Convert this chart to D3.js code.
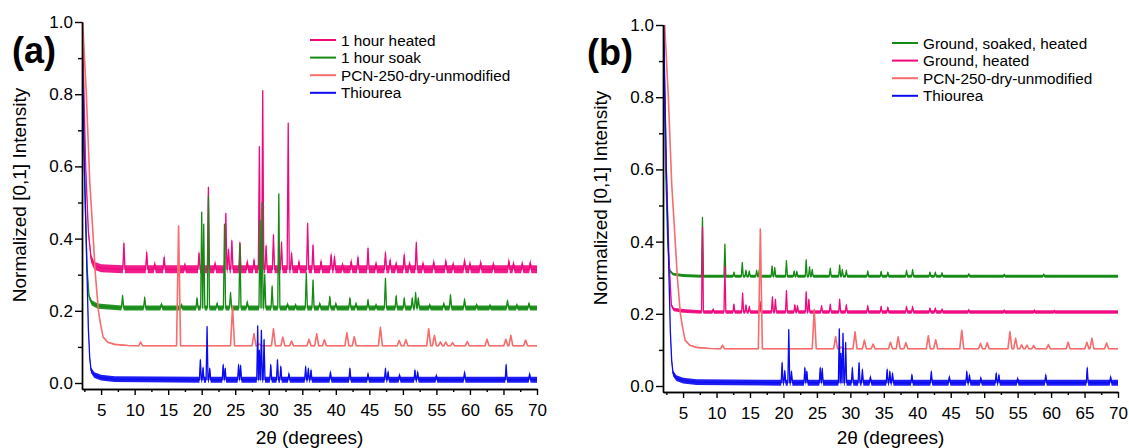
<!DOCTYPE html>
<html>
<head>
<meta charset="utf-8">
<script src="https://cdn.jsdelivr.net/npm/d3@7"></script>
<style>
  body { margin: 0; background: #fff; }
  svg { display: block; font-family: "Liberation Sans", Arial, sans-serif; }
</style>
</head>
<body>
<svg id="chart" width="1129" height="448"></svg>
<script>
// ---------------------------------------------------------------------------
// Axis ticks and labels

const xMajorTicks = [5, 10, 15, 20, 25, 30, 35, 40, 45, 50, 55, 60, 65, 70];
const xMinorTicks = [2.5, 7.5, 12.5, 17.5, 22.5, 27.5, 32.5, 37.5, 42.5, 47.5, 52.5, 57.5, 62.5, 67.5];
const yMajorTicks = [0.0, 0.2, 0.4, 0.6, 0.8, 1.0];
const yMinorTicks = [0.1, 0.3, 0.5, 0.7, 0.9];

const xTitle = '2θ (degrees)';
const yTitle = 'Normalized [0,1] Intensity';

const legendA = ['1 hour heated', '1 hour soak', 'PCN-250-dry-unmodified', 'Thiourea'];
const legendB = ['Ground, soaked, heated', 'Ground, heated', 'PCN-250-dry-unmodified', 'Thiourea'];

// ---------------------------------------------------------------------------
// Patterns: low-angle fall-off, flat baseline, peaks as [2θ, intensity]

// (a) 1 hour heated
const heatedLead = [[2.2, 1.0], [2.7, 0.6], [3.1, 0.42], [3.5, 0.345], [4.0, 0.325], [5.0, 0.318]];
const heatedBase = 0.315;
const heatedNoise = 0.011;
const heatedPeaks = [[8.4, 0.387], [11.8, 0.362], [13.0, 0.328], [14.4, 0.348], [17.5, 0.325],
  [19.6, 0.36], [20.2, 0.34], [21.0, 0.542], [22.0, 0.33], [23.6, 0.47], [24.0, 0.37],
  [24.5, 0.394], [25.7, 0.389], [26.8, 0.335], [27.8, 0.34], [28.6, 0.655], [29.1, 0.81],
  [29.6, 0.38], [30.7, 0.41], [31.9, 0.39], [32.9, 0.72], [33.4, 0.36], [34.5, 0.335],
  [35.8, 0.442], [36.6, 0.382], [37.8, 0.336], [39.3, 0.355], [39.8, 0.35], [41.0, 0.325],
  [42.3, 0.336], [43.3, 0.348], [44.8, 0.373], [46.0, 0.33], [47.4, 0.361], [48.1, 0.34],
  [49.0, 0.33], [50.2, 0.355], [51.0, 0.33], [52.0, 0.389], [53.0, 0.33], [54.6, 0.335],
  [56.4, 0.338], [57.5, 0.328], [59.2, 0.34], [60.0, 0.33], [61.6, 0.333], [63.5, 0.328],
  [65.8, 0.338], [66.5, 0.33], [67.8, 0.33], [69.0, 0.333]];

// (a) 1 hour soak
const soakLead = [[2.1, 1.0], [2.5, 0.6], [2.9, 0.32], [3.2, 0.24], [3.6, 0.222], [4.5, 0.213]];
const soakBase = 0.208;
const soakNoise = 0.007;
const soakPeaks = [[8.2, 0.242], [11.5, 0.237], [14.0, 0.218], [17.0, 0.215], [19.3, 0.235],
  [20.0, 0.473], [20.3, 0.44], [21.0, 0.518], [22.3, 0.22], [23.4, 0.44], [24.3, 0.25],
  [25.7, 0.385], [26.8, 0.225], [28.7, 0.45], [29.0, 0.5], [29.4, 0.3], [30.5, 0.268],
  [31.5, 0.524], [32.8, 0.218], [34.0, 0.215], [35.6, 0.304], [36.6, 0.285], [37.6, 0.22],
  [39.1, 0.239], [40.0, 0.22], [42.1, 0.235], [43.0, 0.22], [44.8, 0.23], [46.0, 0.215],
  [47.4, 0.29], [49.0, 0.241], [50.2, 0.235], [51.4, 0.235], [51.9, 0.25], [52.3, 0.235],
  [54.0, 0.215], [56.1, 0.22], [57.1, 0.244], [59.2, 0.232], [61.0, 0.215], [63.0, 0.213],
  [65.6, 0.228], [67.0, 0.215], [68.8, 0.22]];

// PCN-250-dry-unmodified (both panels)
const pcnLead = [[2.25, 1.0], [2.8, 0.8], [3.3, 0.56], [3.7, 0.44], [4.15, 0.3], [4.6, 0.2],
  [4.9, 0.165], [5.3, 0.127], [6.0, 0.113], [7.0, 0.107], [9.0, 0.104]];
const pcnBase = 0.103;
const pcnNoise = 0.0015;
const pcnPeaks = [[10.9, 0.113], [16.55, 0.435], [24.6, 0.212], [27.8, 0.137], [28.6, 0.108],
  [30.7, 0.15], [32.1, 0.127], [33.4, 0.116], [36.0, 0.121], [37.15, 0.136], [38.3, 0.12],
  [41.65, 0.139], [42.75, 0.128], [46.65, 0.154], [49.45, 0.118], [50.45, 0.12], [53.85, 0.15],
  [54.7, 0.132], [55.6, 0.114], [56.4, 0.113], [57.4, 0.112], [59.6, 0.115], [62.55, 0.121],
  [65.35, 0.121], [66.1, 0.132], [68.3, 0.119]];

// Thiourea (both panels)
const thioLead = [[2.1, 1.0], [2.5, 0.6], [2.9, 0.3], [3.1, 0.15], [3.3, 0.07], [3.5, 0.035],
  [4.0, 0.022], [5.0, 0.015], [7.0, 0.011]];
const thioBase = 0.009;
const thioNoise = 0.008;
const thioPeaks = [[19.8, 0.064], [20.2, 0.042], [20.8, 0.156], [21.2, 0.04], [23.2, 0.05],
  [23.5, 0.04], [25.5, 0.05], [25.8, 0.048], [28.35, 0.158], [28.6, 0.09], [28.9, 0.146],
  [29.3, 0.12], [30.3, 0.05], [31.3, 0.064], [31.8, 0.045], [33.0, 0.025], [35.5, 0.045],
  [35.9, 0.04], [36.3, 0.035], [39.2, 0.03], [42.1, 0.04], [44.8, 0.025], [47.4, 0.04],
  [47.8, 0.03], [49.5, 0.022], [51.8, 0.035], [52.2, 0.03], [55.0, 0.02], [59.2, 0.03],
  [65.4, 0.05], [68.9, 0.025]];

// (b) Ground, soaked, heated
const gshLead = [[2.05, 1.0], [2.4, 0.6], [2.7, 0.4], [3.0, 0.32], [3.5, 0.31], [5.0, 0.306]];
const gshBase = 0.304;
const gshNoise = 0.004;
const gshPeaks = [[7.9, 0.467], [11.25, 0.393], [12.6, 0.315], [13.85, 0.342], [14.4, 0.32],
  [14.9, 0.318], [16.0, 0.32], [16.4, 0.322], [18.3, 0.332], [18.7, 0.328], [20.45, 0.347],
  [21.6, 0.318], [22.0, 0.317], [23.4, 0.349], [23.9, 0.33], [24.3, 0.322], [27.0, 0.326],
  [28.4, 0.335], [28.8, 0.322], [29.4, 0.32], [32.6, 0.318], [34.6, 0.317], [35.6, 0.315],
  [38.4, 0.32], [39.3, 0.322], [41.9, 0.315], [42.7, 0.315], [43.7, 0.313], [47.7, 0.31],
  [53.0, 0.308], [58.9, 0.309]];

// (b) Ground, heated
const ghLead = [[2.05, 1.0], [2.5, 0.6], [2.9, 0.35], [3.25, 0.224], [3.6, 0.212], [5.0, 0.208]];
const ghBase = 0.205;
const ghNoise = 0.005;
const ghPeaks = [[7.9, 0.44], [9.5, 0.212], [11.25, 0.332], [12.6, 0.226], [13.9, 0.257],
  [14.4, 0.224], [14.9, 0.22], [16.5, 0.234], [18.35, 0.247], [18.8, 0.24], [20.45, 0.264],
  [21.7, 0.225], [22.1, 0.222], [23.4, 0.261], [23.8, 0.24], [25.7, 0.222], [27.0, 0.226],
  [28.4, 0.24], [29.4, 0.225], [32.6, 0.222], [34.6, 0.22], [35.6, 0.218], [38.4, 0.22],
  [39.3, 0.22], [41.9, 0.215], [42.7, 0.215], [43.7, 0.212], [47.7, 0.21], [53.0, 0.208],
  [57.5, 0.208], [60.5, 0.207]];

// ---------------------------------------------------------------------------
// Styling

const PINK = '#f0087f';
const GREEN = '#148a14';
const SALMON = '#f76c6c';
const BLUE = '#0b0bf2';

const seriesA = [
  { lead: heatedLead, base: heatedBase, peaks: heatedPeaks, noise: heatedNoise, color: PINK, hw: 0.16, lw: 1.3 },
  { lead: soakLead, base: soakBase, peaks: soakPeaks, noise: soakNoise, color: GREEN, hw: 0.16, lw: 1.3 },
  { lead: pcnLead, base: pcnBase, peaks: pcnPeaks, noise: pcnNoise, color: SALMON, hw: 0.3, lw: 1.6 },
  { lead: thioLead, base: thioBase, peaks: thioPeaks, noise: thioNoise, color: BLUE, hw: 0.14, lw: 1.3 }
];
const seriesB = [
  { lead: gshLead, base: gshBase, peaks: gshPeaks, noise: gshNoise, color: GREEN, hw: 0.14, lw: 1.3 },
  { lead: ghLead, base: ghBase, peaks: ghPeaks, noise: ghNoise, color: PINK, hw: 0.14, lw: 1.3 },
  { lead: pcnLead, base: pcnBase, peaks: pcnPeaks, noise: pcnNoise, color: SALMON, hw: 0.3, lw: 1.6 },
  { lead: thioLead, base: thioBase, peaks: thioPeaks, noise: thioNoise, color: BLUE, hw: 0.14, lw: 1.3 }
];

const panels = [
  { id: 'a', letter: '(a)', letterX: 12, letterY: 63, left: 82, right: 537, top: 22, bottom: 389,
    xMin: 2.15, series: seriesA, legend: legendA, legendX: 310, legendY: 40,
    yTitleX: 26, yTitleY: 195 },
  { id: 'b', letter: '(b)', letterX: 587, letterY: 65, left: 663, right: 1118, top: 25, bottom: 392,
    xMin: 2.0, series: seriesB, legend: legendB, legendX: 892, legendY: 43,
    yTitleX: 607, yTitleY: 198 }
];

const yMin = -0.0166;

// ---------------------------------------------------------------------------
// Helpers

function tracePoints(s) {
  const pts = s.lead.slice();
  s.peaks.forEach(([p, h]) => {
    pts.push([p - s.hw, s.base], [p, h], [p + s.hw, s.base]);
  });
  pts.push([70, s.base]);
  return pts.sort((a, b) => a[0] - b[0]);
}

const svg = d3.select('#chart');

panels.forEach(function(pn) {
  const x = d3.scaleLinear().domain([pn.xMin, 70]).range([pn.left, pn.right]);
  const y = d3.scaleLinear().domain([yMin, 1.0]).range([pn.bottom, pn.top]);

  const g = svg.append('g').attr('class', 'panel-' + pn.id);

  svg.append('clipPath').attr('id', 'clip-' + pn.id)
    .append('rect')
    .attr('x', pn.left).attr('y', pn.top - 4)
    .attr('width', pn.right - pn.left).attr('height', pn.bottom - pn.top + 4);

  const plot = g.append('g').attr('clip-path', `url(#clip-${pn.id})`);

  const line = d3.line().x(d => x(d[0])).y(d => y(d[1]));

  pn.series.forEach(function(s) {
    const pts = tracePoints(s);
    const band = d3.area()
      .x(d => x(d[0]))
      .y0(d => y(d[1] - s.noise))
      .y1(d => y(d[1] + s.noise));
    plot.append('path')
      .attr('d', band(pts))
      .attr('fill', s.color)
      .attr('fill-opacity', 0.92);
    plot.append('path')
      .attr('d', line(pts))
      .attr('fill', 'none')
      .attr('stroke', s.color)
      .attr('stroke-width', s.lw)
      .attr('stroke-linejoin', 'round');
  });

  // axes
  const xAxis = g.append('g').attr('transform', `translate(0,${pn.bottom})`)
    .call(d3.axisBottom(x).tickValues(xMajorTicks).tickSize(6).tickPadding(9)
      .tickFormat(d3.format('d')).tickSizeOuter(0));
  g.append('g').attr('transform', `translate(0,${pn.bottom})`)
    .call(d3.axisBottom(x).tickValues(xMinorTicks).tickSize(3).tickFormat('').tickSizeOuter(0));

  const yAxis = g.append('g').attr('transform', `translate(${pn.left},0)`)
    .call(d3.axisLeft(y).tickValues(yMajorTicks).tickSize(7).tickPadding(2)
      .tickFormat(d3.format('.1f')).tickSizeOuter(0));
  g.append('g').attr('transform', `translate(${pn.left},0)`)
    .call(d3.axisLeft(y).tickValues(yMinorTicks).tickSize(4).tickFormat('').tickSizeOuter(0));

  g.selectAll('.domain, .tick line').attr('stroke', '#000').attr('stroke-width', 1.4);
  xAxis.selectAll('text').attr('font-size', 17).attr('fill', '#000')
    .attr('font-family', '"Liberation Sans", Arial, sans-serif');
  yAxis.selectAll('text').attr('font-size', 17).attr('fill', '#000')
    .attr('font-family', '"Liberation Sans", Arial, sans-serif');

  // titles
  g.append('text')
    .attr('x', (pn.left + pn.right) / 2).attr('y', 444)
    .attr('text-anchor', 'middle').attr('font-size', 19)
    .text(xTitle);
  g.append('text')
    .attr('transform', `translate(${pn.yTitleX},${pn.yTitleY}) rotate(-90)`)
    .attr('text-anchor', 'middle').attr('font-size', 19)
    .text(yTitle);

  g.append('text')
    .attr('x', pn.letterX).attr('y', pn.letterY)
    .attr('font-size', 36).attr('font-weight', 'bold')
    .text(pn.letter);

  // legend
  const lg = g.append('g');
  pn.legend.forEach(function(name, i) {
    const ly = pn.legendY + i * 17.6;
    lg.append('line')
      .attr('x1', pn.legendX).attr('x2', pn.legendX + 26)
      .attr('y1', ly).attr('y2', ly)
      .attr('stroke', pn.series[i].color).attr('stroke-width', 2);
    lg.append('text')
      .attr('x', pn.legendX + 31).attr('y', ly)
      .attr('dy', '0.36em').attr('font-size', 15.3)
      .text(name);
  });
});
</script>
</body>
</html>
